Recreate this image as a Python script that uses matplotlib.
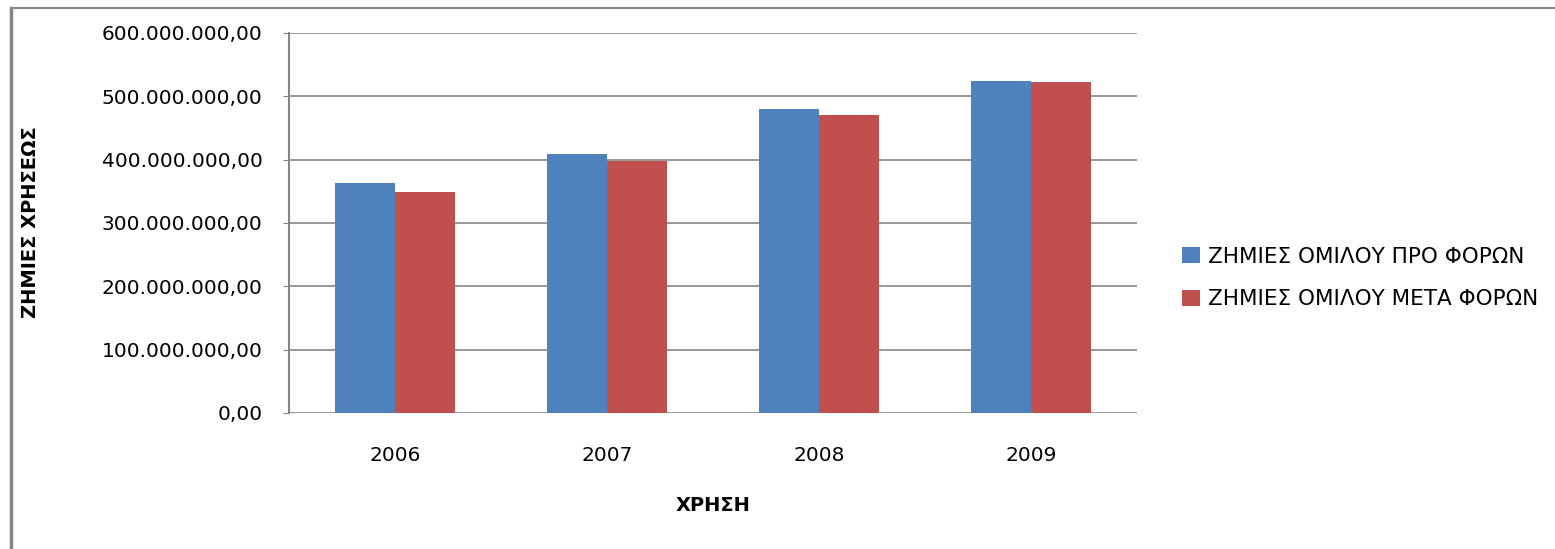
import numpy as np
import matplotlib
matplotlib.use('Agg')
import matplotlib.pyplot as plt
from matplotlib.ticker import FuncFormatter
from matplotlib.lines import Line2D

years = ["2006", "2007", "2008", "2009"]
before_tax = [363e6, 408.5e6, 479.5e6, 523.7e6]
after_tax = [348.6e6, 398e6, 470e6, 522e6]
labels = ["ΖΗΜΙΕΣ ΟΜΙΛΟΥ ΠΡΟ ΦΟΡΩΝ", "ΖΗΜΙΕΣ ΟΜΙΛΟΥ ΜΕΤΑ ΦΟΡΩΝ"]

BLUE = "#4f81bd"
RED = "#c0504d"
GRID = "#868686"

plt.rcParams['font.family'] = ['DejaVu Sans']

fig = plt.figure(figsize=(15.55, 5.49), dpi=100)
ax = fig.add_axes([289 / 1555, 1 - 413 / 549, (1137 - 289) / 1555, (413 - 33) / 549])

x = np.arange(len(years))
w = 0.285
ax.bar(x - w / 2, before_tax, w, color=BLUE, label=labels[0], zorder=3)
ax.bar(x + w / 2, after_tax, w, color=RED, label=labels[1], zorder=3)

ax.set_xlim(-0.5, len(years) - 0.5)
ax.set_ylim(0, 600e6)
ax.set_yticks(np.arange(0, 600e6 + 1, 100e6))


def fmt(v, pos):
    s = f"{v:,.2f}"
    return s.replace(",", "X").replace(".", ",").replace("X", ".")


ax.yaxis.set_major_formatter(FuncFormatter(fmt))
ax.set_xticks(x)
ax.set_xticklabels(years)

ax.grid(axis='y', color=GRID, linewidth=1.2, zorder=0)
for s in ["top", "right", "bottom"]:
    ax.spines[s].set_visible(False)
ax.spines["left"].set_color(GRID)
ax.spines["left"].set_linewidth(1.5)
ax.tick_params(axis='y', length=4, color=GRID, labelsize=14.5, pad=15)
ax.tick_params(axis='x', length=0, labelsize=14.5, pad=24)

ax.set_xlabel("ΧΡΗΣΗ", fontsize=14, fontweight='bold', labelpad=22)
fig.text(30 / 1555, 1 - 222 / 549, "ΖΗΜΙΕΣ ΧΡΗΣΕΩΣ", rotation=90, fontsize=14,
         fontweight='bold', ha='center', va='center')

fig.legend(loc='center left', bbox_to_anchor=(1163 / 1555, 1 - 278 / 549),
           frameon=False, fontsize=15.5, handlelength=0.8, handleheight=0.8,
           handletextpad=0.4, labelspacing=1.05)

# outer chart frame (left and top edges)
fig.add_artist(Line2D([10.5 / 1555, 10.5 / 1555], [0, 1 - 8 / 549],
                      transform=fig.transFigure, color=GRID, linewidth=2.5))
fig.add_artist(Line2D([10.5 / 1555, 1], [1 - 8 / 549, 1 - 8 / 549],
                      transform=fig.transFigure, color=GRID, linewidth=1.5))

fig.savefig("out.png", dpi=100, facecolor="white")
